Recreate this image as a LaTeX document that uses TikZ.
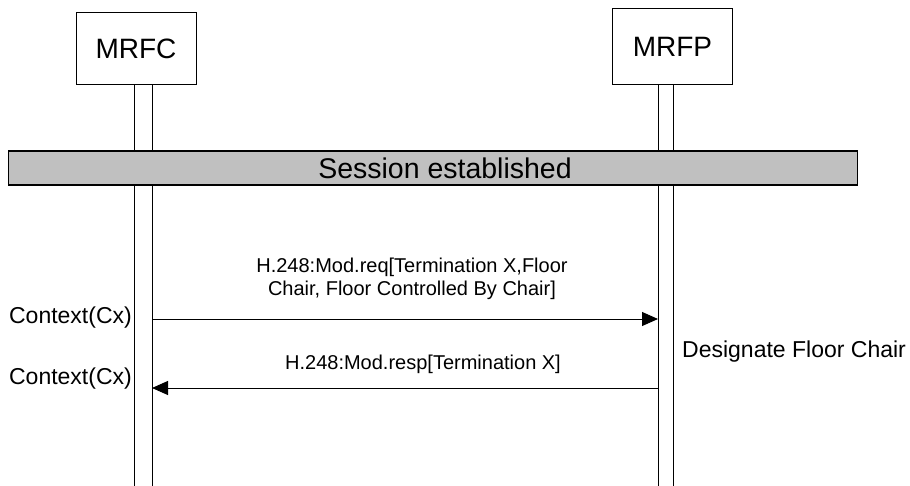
\documentclass[tikz,border=0pt]{standalone}
\usepackage{fontspec}
\setmainfont{Liberation Sans}
\usetikzlibrary{arrows.meta}

\definecolor{barfill}{HTML}{C0C0C0}

\begin{document}
\begin{tikzpicture}[x=1pt,y=-1pt,
		entity/.style={draw, line width=1pt, minimum width=120pt, inner sep=0pt, font=\fontsize{28}{30}\selectfont},
		life/.style={line width=1pt},
		msg/.style={line width=1pt, -{Triangle[length=16pt,width=14pt]}},
		lbl/.style={font=\fontsize{20}{23}\selectfont, align=center, inner sep=0pt},
		side/.style={font=\fontsize{23}{26}\selectfont, inner sep=0pt}]

	\useasboundingbox (0,0) rectangle (910,486);

	% Entities
	\node[entity, minimum height=72pt] (mrfc) at (136,49) {MRFC};
	\node[entity, minimum height=76pt] (mrfp) at (672.5,47) {MRFP};

	% Lifelines (double lines)
	\coordinate (mrfcA) at (134,85);
	\coordinate (mrfcB) at (152,85);
	\coordinate (mrfpA) at (658,85);
	\coordinate (mrfpB) at (673,85);
	\draw[life] (mrfcA) -- ++(0,401);
	\draw[life] (mrfcB) -- ++(0,401);
	\draw[life] (mrfpA) -- ++(0,401);
	\draw[life] (mrfpB) -- ++(0,401);

	% Session bar
	\node[draw, line width=1.2pt, fill=barfill, minimum width=849pt, minimum height=34pt, inner sep=0pt] (sess) at (433,168) {};
	\node[inner sep=0pt, font=\fontsize{28.5}{30}\selectfont] (sessL) at (445,168) {Session established};

	% Mod.req
	\coordinate (reqS) at (152,319);
	\coordinate (reqE) at (658,319);
	\draw[msg] (reqS) -- (reqE);
	\node[lbl] (reqL) at (412,279) {H.248:Mod.req[Termination X,Floor\\Chair, Floor Controlled By Chair]};

	% Mod.resp
	\coordinate (respS) at (658,388);
	\coordinate (respE) at (152,388);
	\draw[msg] (respS) -- (respE);
	\node[lbl] (respL) at (423,364) {H.248:Mod.resp[Termination X]};

	% Side notes
	\node[side, anchor=east] (cx1) at (132,317.5) {Context(Cx)};
	\node[side, anchor=east] (cx2) at (132,379) {Context(Cx)};
	\node[side, anchor=west] (desig) at (682,352) {Designate Floor Chair};

\end{tikzpicture}
\end{document}
